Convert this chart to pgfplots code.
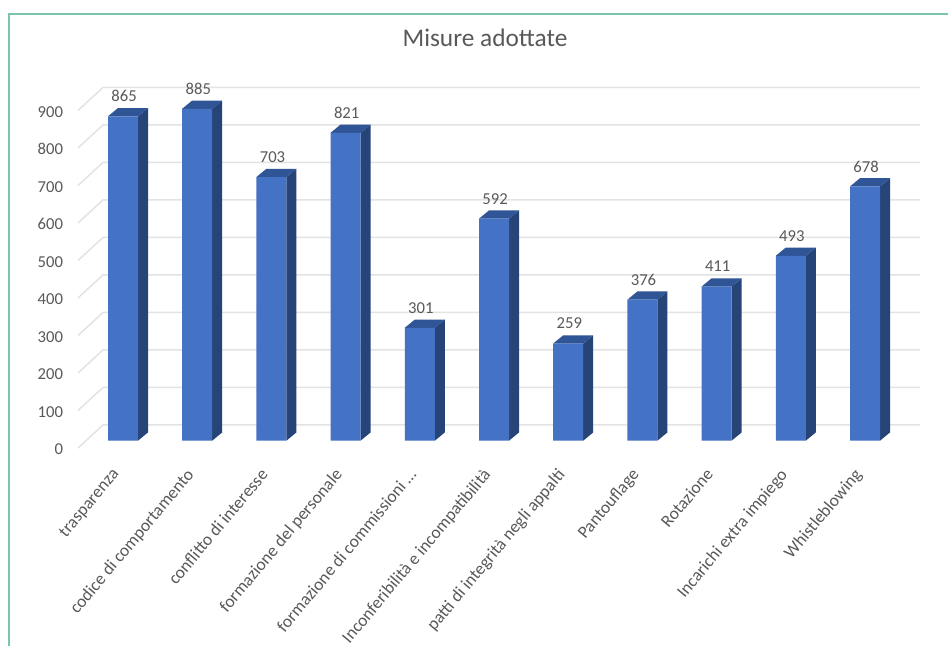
\documentclass[border=0pt]{standalone}
\usepackage{fontspec}
\setmainfont{Carlito}
\usepackage{pgfplots}
\pgfplotsset{compat=1.18}

\definecolor{framecol}{HTML}{7CC4AC}
\definecolor{gridcol}{HTML}{E3E3E3}
\definecolor{txtcol}{HTML}{595959}
\definecolor{frontcol}{HTML}{4472C4}
\definecolor{sidecol}{HTML}{264478}
\definecolor{topcol}{HTML}{2F5597}

% side and top face of one bar: category, value
\newcommand{\barfaces}[2]{%
  \pgfmathsetmacro\xa{#1-0.2022}%
  \pgfmathsetmacro\xb{#1-0.0674}%
  \pgfmathsetmacro\xc{#1+0.2022}%
  \pgfmathsetmacro\xd{#1+0.3370}%
  \pgfmathsetmacro\yt{#2+22}%
  \edef\temp{%
    \noexpand\addplot[fill=sidecol,draw=none,forget plot] coordinates {(\xc,0)(\xd,22)(\xd,\yt)(\xc,#2)} -- cycle;
    \noexpand\addplot[fill=topcol,draw=none,forget plot] coordinates {(\xa,#2)(\xb,\yt)(\xd,\yt)(\xc,#2)} -- cycle;
  }\temp}

\begin{document}
\begin{tikzpicture}
\useasboundingbox (0,0) rectangle (711pt,484.5pt);
\fill[white] (0,0) rectangle (711pt,484.5pt);
\draw[framecol,line width=1.5pt] (6.4pt,0) -- (6.4pt,473.8pt) -- (711pt,473.8pt);
\begin{axis}[
    at={(58.5pt,154pt)},
    anchor=south west,
    scale only axis,
    width=631.5pt,
    height=264.94pt,
    xmin=-0.6065, xmax=10.741,
    ymin=0, ymax=942,
    clip=false,
    axis line style={draw=none},
    major tick length=0pt,
    /pgf/number format/assume math mode=true,
    xtick={0,...,10},
    xticklabels={trasparenza,codice di comportamento,conflitto di interesse,formazione del personale,formazione di commissioni \ldots,Inconferibilità e incompatibilità,patti di integrità negli appalti,Pantouflage,Rotazione,Incarichi extra impiego,Whistleblowing},
    ytick={0,100,...,900},
    tick label style={text=txtcol,font=\fontsize{12.5pt}{14pt}\selectfont},
    xticklabel style={rotate=50,anchor=north east,inner sep=0pt,xshift=-20.9pt,yshift=-5.8pt,font=\fontsize{13.1pt}{15pt}\selectfont},
    yticklabel style={anchor=east,inner sep=0pt,xshift=-11pt,yshift=-6.4pt},
    title={Misure adottate},
    title style={at={(axis description cs:0.4834,1.14)},anchor=center,yshift=-6pt,text=txtcol,font=\fontsize{19pt}{21pt}\selectfont},
]

% back wall and floor lines
\pgfplotsforeachungrouped \v in {0,100,...,900}{%
  \pgfmathsetmacro\ylo{\v-19.5}%
  \pgfmathsetmacro\yhi{\v+41.9}%
  \edef\temp{\noexpand\addplot[gridcol,line width=1.1pt,forget plot] coordinates {(-0.6065,\ylo)(-0.2695,\yhi)(10.741,\yhi)};}%
  \temp
}

\barfaces{0}{865}
\barfaces{1}{885}
\barfaces{2}{703}
\barfaces{3}{821}
\barfaces{4}{301}
\barfaces{5}{592}
\barfaces{6}{259}
\barfaces{7}{376}
\barfaces{8}{411}
\barfaces{9}{493}
\barfaces{10}{678}

\addplot[
    ybar,
    bar width=22.5pt,
    bar shift=0pt,
    fill=frontcol,
    draw=none,
    nodes near coords,
    nodes near coords style={anchor=center,yshift=15pt,xshift=0.8pt,text=txtcol,font=\fontsize{12.5pt}{14pt}\selectfont,/pgf/number format/assume math mode=true},
    ]
    coordinates {
    (0,865)(1,885)(2,703)(3,821)(4,301)(5,592)(6,259)(7,376)(8,411)(9,493)(10,678)
    };

\end{axis}
\end{tikzpicture}
\end{document}
